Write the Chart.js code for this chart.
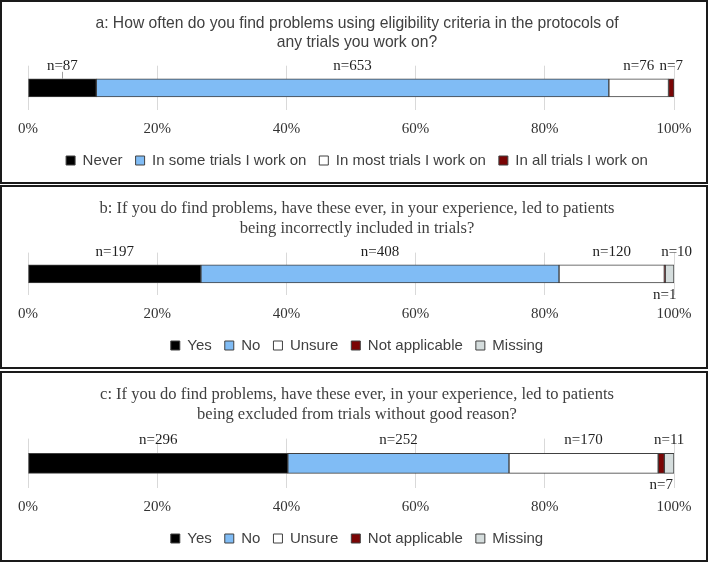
<!DOCTYPE html>
<html>
<head>
<meta charset="utf-8">
<script src="https://cdn.jsdelivr.net/npm/chart.js@4.4.1/dist/chart.umd.min.js"></script>
<style>
  body { margin: 0; background: #fff; }
  .panel { position: absolute; left: 0; width: 704px; border: 2px solid #1a1a1a; background: #fff; }
  .panel canvas { display: block; }
</style>
</head>
<body>
<div class="panel" style="top:0px;height:180px"><canvas id="chartA" width="704" height="180"></canvas></div>
<div class="panel" style="top:185px;height:180px"><canvas id="chartB" width="704" height="180"></canvas></div>
<div class="panel" style="top:371px;height:187px"><canvas id="chartC" width="704" height="187"></canvas></div>
<script>
// réponses et effectifs
const titleA = ['a: How often do you find problems using eligibility criteria in the protocols of', 'any trials you work on?'];
const titleB = ['b: If you do find problems, have these ever, in your experience, led to patients', 'being incorrectly included in trials?'];
const titleC = ['c: If you do find problems, have these ever, in your experience, led to patients', 'being excluded from trials without good reason?'];

const answersA = ['Never', 'In some trials I work on', 'In most trials I work on', 'In all trials I work on'];
const countsA = [87, 653, 76, 7];

const answersBC = ['Yes', 'No', 'Unsure', 'Not applicable', 'Missing'];
const countsB = [197, 408, 120, 1, 10];
const countsC = [296, 252, 170, 7, 11];

const tickLabels = ['0%', '20%', '40%', '60%', '80%', '100%'];

const colorsA = ['#000000', '#80bcf5', '#ffffff', '#7a0505'];
const colorsBC = ['#000000', '#80bcf5', '#ffffff', '#7a0505', '#d5dddd'];

// étiquettes n=... au-dessus / en dessous des segments
const countLabels = {
    id: 'countLabels',
    afterLayout(chart) {
        // titre et légende centrés sur le cadre, pas sur la zone du graphique
        [chart.titleBlock, chart.legend].forEach(b => {
            if (b) { b.left += 6; b.right += 6; }
        });
    },
    afterDatasetsDraw(chart, args, opts) {
        const ctx = chart.ctx;
        ctx.save();
        ctx.font = '15px "Liberation Serif"';
        ctx.fillStyle = '#1f1f1f';
        ctx.textAlign = 'center';
        ctx.textBaseline = 'middle';
        chart.data.datasets.forEach((ds, i) => {
            const bar = chart.getDatasetMeta(i).data[0];
            const place = (opts.places && opts.places[i]) || {};
            const cx = (bar.x + bar.base) / 2 + (place.dx || 0);
            const top = bar.y - bar.height / 2;
            const bottom = bar.y + bar.height / 2;
            const y = place.below ? bottom + 12 : top - 13;
            ctx.fillText('n=' + ds.count, cx, y);
            if (place.leader) {
                ctx.strokeStyle = '#a0a0a0';
                ctx.lineWidth = 1;
                ctx.beginPath();
                ctx.moveTo(Math.round(cx) + 0.5, y + 6);
                ctx.lineTo(Math.round(cx) + 0.5, top);
                ctx.stroke();
            }
        });
        ctx.restore();
    }
};

function makeChart(id, title, titleFont, answers, counts, colors, thickness, places) {
    const total = counts.reduce((a, b) => a + b, 0);
    const ctx = document.getElementById(id).getContext('2d');
    return new Chart(ctx, {
        type: 'bar',
        data: {
            labels: [''],
            datasets: answers.map((a, i) => ({
                label: a,
                data: [counts[i] / total * 100],
                count: counts[i],
                backgroundColor: colors[i],
                borderColor: '#404040',
                borderWidth: 1,
                borderSkipped: false,
                barThickness: thickness,
            }))
        },
        options: {
            indexAxis: 'y',
            responsive: false,
            animation: false,
            layout: { padding: { left: 26, right: 32, top: 0, bottom: 4 } },
            scales: {
                x: {
                    stacked: true,
                    min: 0,
                    max: 100,
                    border: { display: false },
                    grid: { color: '#d9d9d9', drawTicks: false },
                    ticks: {
                        stepSize: 20,
                        padding: 10,
                        color: '#333333',
                        font: { family: 'Liberation Serif', size: 15 },
                        callback: (v, i) => tickLabels[i]
                    },
                    afterFit: (scale) => { scale.height = 30; }
                },
                y: { stacked: true, display: false }
            },
            plugins: {
                title: {
                    display: true,
                    text: title,
                    color: '#404040',
                    font: titleFont,
                    padding: { top: 12, bottom: 14 }
                },
                legend: {
                    position: 'bottom',
                    labels: {
                        color: '#404040',
                        font: { family: 'Liberation Sans', size: 15 },
                        boxWidth: 9,
                        boxHeight: 9,
                        padding: 13
                    }
                },
                tooltip: { enabled: false },
                countLabels: { places: places }
            }
        },
        plugins: [countLabels]
    });
}

makeChart('chartA', titleA, { family: 'Liberation Sans', size: 15.7, weight: 'normal' },
    answersA, countsA, colorsA, 18, [{ leader: true }]);
makeChart('chartB', titleB, { family: 'Liberation Serif', size: 16.5, weight: 'normal' },
    answersBC, countsB, colorsBC, 18, [{}, {}, {}, { below: true }, { dx: 7 }]);
makeChart('chartC', titleC, { family: 'Liberation Serif', size: 16.5, weight: 'normal' },
    answersBC, countsC, colorsBC, 20, [{}, {}, {}, { below: true }, {}]);
</script>
</body>
</html>
